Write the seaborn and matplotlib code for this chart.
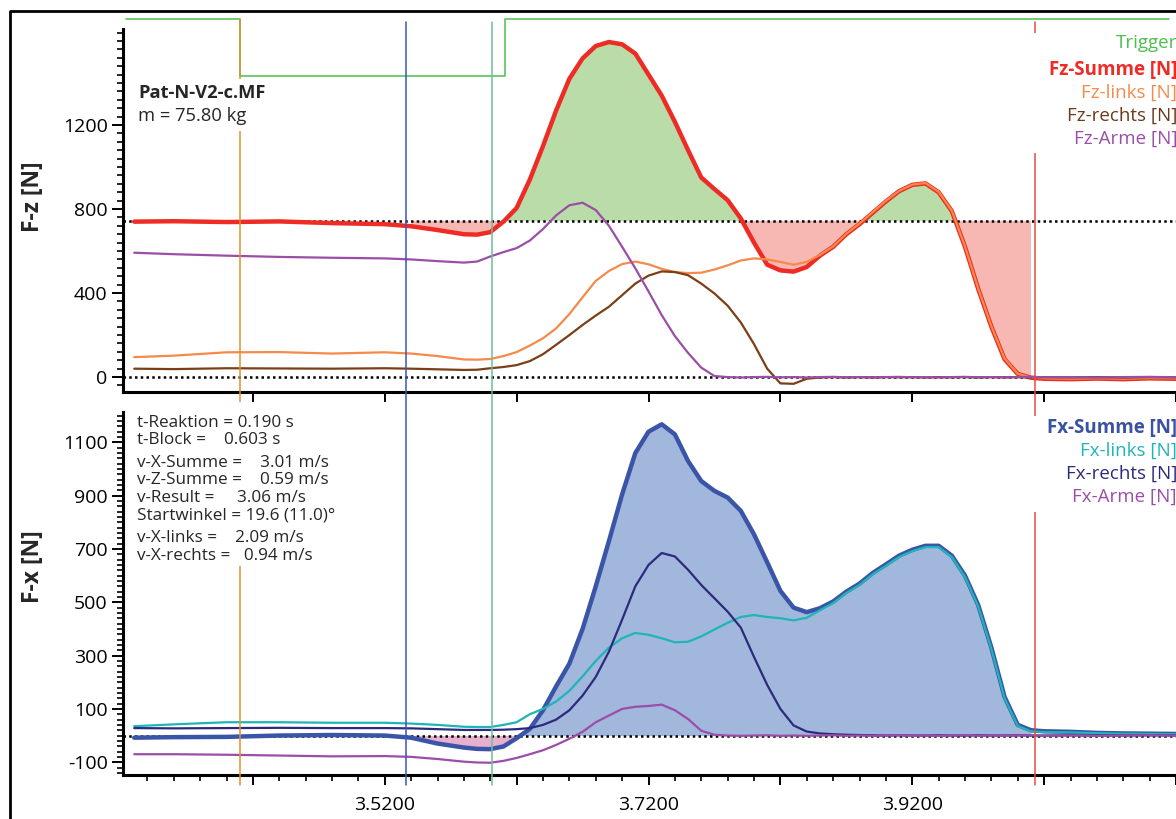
import numpy as np
import matplotlib
matplotlib.use("Agg")
import matplotlib.pyplot as plt
import seaborn as sns
from matplotlib.lines import Line2D
from matplotlib.patches import Rectangle
from matplotlib.ticker import MultipleLocator, FixedLocator

# time axis [s]
t = [3.33, 3.36, 3.40, 3.44, 3.48, 3.52, 3.54, 3.56, 3.58,
     3.59, 3.60, 3.61, 3.62, 3.63, 3.64, 3.65, 3.66, 3.67, 3.68,
     3.69, 3.70, 3.71, 3.72, 3.73, 3.74, 3.75, 3.76, 3.77, 3.78,
     3.79, 3.80, 3.81, 3.82, 3.83, 3.84, 3.85, 3.86, 3.87, 3.88,
     3.89, 3.90, 3.91, 3.92, 3.93, 3.94, 3.95, 3.96, 3.97, 3.98,
     3.99, 4.00, 4.01, 4.02, 4.04, 4.06, 4.08, 4.10, 4.12]

# vertical forces [N]
fz_summe = [740, 742, 738, 741, 733, 728, 718, 700, 680,
            678, 690, 740, 805, 940, 1100, 1270, 1420, 1517, 1576,
            1595, 1584, 1540, 1440, 1340, 1215, 1080, 950, 895, 842,
            755, 640, 535, 508, 502, 524, 578, 620, 680, 728,
            782, 836, 885, 915, 922, 880, 790, 620, 420, 240,
            85, 15, -3, -8, -10, -7, -10, -6, -8]
fz_links = [95, 102, 118, 119, 112, 118, 112, 100, 84,
            83, 86, 100, 119, 150, 185, 232, 300, 380, 458,
            505, 538, 550, 537, 515, 500, 495, 497, 512, 532,
            555, 565, 560, 548, 535, 548, 582, 622, 682, 731,
            785, 839, 886, 916, 924, 882, 792, 622, 422, 242,
            88, 16, -2, -6, -8, -6, -8, -5, -6]
fz_rechts = [40, 38, 42, 41, 40, 42, 40, 37, 34,
             35, 42, 48, 57, 76, 109, 154, 200, 248, 293,
             335, 390, 445, 483, 503, 500, 485, 445, 398, 340,
             260, 157, 40, -30, -32, -8, -2, 0, -2, 0,
             -2, 0, -1, 0, -2, 0, -1, 0, -2, 0,
             -1, 0, -2, 0, -1, 0, -2, 0, -1]
fz_arme = [592, 585, 578, 572, 568, 565, 560, 552, 545,
           550, 574, 595, 614, 650, 705, 770, 818, 830, 795,
           720, 620, 518, 408, 295, 195, 115, 45, 5, 0,
           -2, 0, 1, -1, 0, -2, 0, 1, -1, 0,
           -2, 0, 1, -1, 0, -2, 0, 1, -1, 0,
           -2, 0, 1, -1, 0, -2, 0, 1, -1]

# horizontal forces [N]
fx_summe = [-8, -6, -5, 0, 2, 0, -8, -30, -45,
            -50, -51, -41, -10, 25, 95, 185, 270, 400, 560,
            730, 905, 1060, 1140, 1168, 1130, 1030, 955, 918, 893,
            843, 755, 650, 543, 480, 463, 478, 503, 540, 570,
            610, 642, 675, 697, 712, 712, 675, 600, 490, 330,
            145, 40, 20, 16, 14, 10, 8, 7, 6]
fx_links = [35, 42, 50, 50, 48, 48, 45, 40, 33,
            32, 32, 40, 50, 80, 100, 128, 168, 222, 280,
            330, 365, 385, 378, 365, 350, 352, 372, 398, 423,
            445, 452, 445, 440, 432, 442, 470, 497, 535, 565,
            605, 637, 670, 692, 707, 707, 670, 595, 485, 325,
            140, 36, 16, 13, 12, 9, 7, 6, 5]
fx_rechts = [28, 27, 28, 29, 28, 28, 27, 24, 21,
             21, 21, 22, 24, 28, 40, 60, 95, 150, 220,
             315, 435, 560, 640, 685, 672, 622, 565, 515, 465,
             405, 295, 190, 100, 38, 15, 8, 5, 3, 2,
             1, 0, 1, 0, 0, 1, 0, 0, 1, 0,
             0, 1, 0, 0, 1, 0, 0, 1, 0]
fx_arme = [-70, -70, -72, -75, -78, -77, -80, -88, -98,
           -101, -102, -95, -84, -70, -55, -35, -12, 14, 50,
           75, 100, 108, 111, 116, 95, 62, 18, 3, 0,
           -1, 0, 1, -1, 0, -1, 0, 1, -1, 0,
           -1, 0, 1, -1, 0, -1, 0, 1, -1, 0,
           -1, 0, 1, -1, 0, -1, 0, 1, -1]

body_weight = 743.6
trigger_t = [3.324, 3.410, 3.611, 4.115]
trigger_lvl = [1705, 1433, 1705, 1705]
event_t = [3.410, 3.536, 3.601, 4.013]
event_colors = ['#e0912f', '#3a55c0', '#6cbf9a', '#e84a4a']

xtick_pos = [3.42, 3.52, 3.62, 3.72, 3.82, 3.92, 4.02, 4.12]
xtick_labels = ['', '3.5200', '', '3.7200', '', '3.9200', '', '']

top_legend = [('Trigger', '#4cbf4c', 'normal'),
              ('Fz-Summe [N]', '#ee2b24', 'bold'),
              ('Fz-links [N]', '#f58a4b', 'normal'),
              ('Fz-rechts [N]', '#6b3a1c', 'normal'),
              ('Fz-Arme [N]', '#9b4ea6', 'normal')]
bottom_legend = [('Fx-Summe [N]', '#3a52a0', 'bold'),
                 ('Fx-links [N]', '#1fb5b8', 'normal'),
                 ('Fx-rechts [N]', '#2d2a7e', 'normal'),
                 ('Fx-Arme [N]', '#9b4ea6', 'normal')]
info_lines = ['t-Reaktion = 0.190 s',
              't-Block =    0.603 s',
              'v-X-Summe =    3.01 m/s',
              'v-Z-Summe =    0.59 m/s',
              'v-Result =     3.06 m/s',
              'Startwinkel = 19.6 (11.0)°',
              'v-X-links =    2.09 m/s',
              'v-X-rechts =   0.94 m/s']

sns.set_style("white")
plt.rcParams['font.family'] = ['Open Sans', 'DejaVu Sans']
plt.rcParams['axes.unicode_minus'] = False

W, H = 1176, 819
fig = plt.figure(figsize=(W / 100, H / 100), dpi=100)


def fx(px):
    return px / W


def fy(py):
    return 1 - py / H


ax1 = fig.add_axes([fx(123), fy(392), fx(W - 123), (392 - 29) / H])
ax2 = fig.add_axes([fx(123), fy(775), fx(W - 123), (775 - 412) / H])

tt = np.array(t)
line_kw = dict(solid_joinstyle='round', solid_capstyle='round')

# top panel: vertical forces
fz = np.array(fz_summe)
m = (tt >= 3.54) & (tt <= 4.01)
ax1.fill_between(tt[m], fz[m], body_weight, where=fz[m] >= body_weight,
                 interpolate=True, color='#b9dca9', lw=0, zorder=1)
ax1.fill_between(tt[m], fz[m], body_weight, where=fz[m] <= body_weight,
                 interpolate=True, color='#f7b7b3', lw=0, zorder=1)
ax1.axhline(body_weight, color='black', lw=1.8, ls=(0, (1, 1.3)), zorder=2)
ax1.axhline(0, color='black', lw=1.8, ls=(0, (1, 1.3)), zorder=2)
sns.lineplot(x=t, y=fz_summe, ax=ax1, color='#ee2b24', lw=3.2, zorder=3, **line_kw)
sns.lineplot(x=t, y=fz_links, ax=ax1, color='#f58a4b', lw=1.6, zorder=4, **line_kw)
sns.lineplot(x=t, y=fz_rechts, ax=ax1, color='#7b3f17', lw=1.6, zorder=4, **line_kw)
sns.lineplot(x=t, y=fz_arme, ax=ax1, color='#9b4ea6', lw=1.6, zorder=4, **line_kw)
ax1.plot(trigger_t, trigger_lvl, drawstyle='steps-post', color='#4cbf4c',
         lw=1.1, clip_on=False, zorder=5)

# bottom panel: horizontal forces
fxs = np.array(fx_summe)
ax2.fill_between(tt[m], fxs[m], 0, where=fxs[m] >= 0, interpolate=True,
                 color='#a1b7dc', lw=0, zorder=1)
ax2.fill_between(tt[m], fxs[m], 0, where=fxs[m] <= 0, interpolate=True,
                 color='#e8b0cf', lw=0, zorder=1)
ax2.axhline(0, color='black', lw=1.8, ls=(0, (1, 1.3)), zorder=2)
sns.lineplot(x=t, y=fx_summe, ax=ax2, color='#3a55a8', lw=3.2, zorder=3, **line_kw)
sns.lineplot(x=t, y=fx_links, ax=ax2, color='#1fb5b8', lw=1.6, zorder=4, **line_kw)
sns.lineplot(x=t, y=fx_rechts, ax=ax2, color='#2d2a7e', lw=1.6, zorder=4, **line_kw)
sns.lineplot(x=t, y=fx_arme, ax=ax2, color='#9b4ea6', lw=1.6, zorder=4, **line_kw)

ax1.set_ylim(-71, 1657)
ax2.set_ylim(-148, 1214)
ax1.yaxis.set_major_locator(FixedLocator([0, 400, 800, 1200]))
ax1.yaxis.set_minor_locator(MultipleLocator(40))
ax2.yaxis.set_major_locator(FixedLocator([-100, 100, 300, 500, 700, 900, 1100]))
ax2.yaxis.set_minor_locator(MultipleLocator(20))

for ax in (ax1, ax2):
    ax.set_xlim(3.3215, 4.119)
    ax.set_xticks(xtick_pos)
    ax.set_facecolor('none')
    for side in ('top', 'right'):
        ax.spines[side].set_visible(False)
    for side in ('left', 'bottom'):
        ax.spines[side].set_color('black')
        ax.spines[side].set_linewidth(2.2)
    ax.tick_params(axis='y', which='major', direction='out', length=8,
                   width=1.4, colors='black', labelsize=14, pad=3, left=True)
    ax.tick_params(axis='y', which='minor', direction='out', length=4,
                   width=1.2, colors='black', left=True)
    ax.tick_params(axis='x', which='major', direction='out', length=7,
                   width=1.4, colors='black', bottom=True)
    ax.set_ylabel('')
    ax.set_xlabel('')

ax1.set_xticklabels([])
ax2.set_xticklabels(xtick_labels)
ax2.xaxis.set_minor_locator(MultipleLocator(0.02))
ax2.tick_params(axis='x', which='major', labelsize=14, pad=8)
ax2.tick_params(axis='x', which='minor', direction='out', length=4,
                width=1.2, colors='black', bottom=True)

# event markers across both panels
for et, col in zip(event_t, event_colors):
    xf = fig.transFigure.inverted().transform(ax1.transData.transform((et, 0)))[0]
    top = 19 if col == '#e0912f' else 22
    fig.add_artist(Line2D([xf, xf], [fy(top), fy(785)], transform=fig.transFigure,
                          color=col, lw=1.1, zorder=2))

# white boxes behind the text blocks
for x0, y0, x1, y1 in [(135, 79, 272, 131), (135, 402, 370, 566),
                       (1030, 33, W, 153), (1030, 416, W, 512)]:
    fig.add_artist(Rectangle((fx(x0), fy(y1)), fx(x1 - x0), (y1 - y0) / H,
                             transform=fig.transFigure, facecolor='white',
                             edgecolor='none', zorder=3))

# outer frame
fig.add_artist(Line2D([fx(10), fx(10), fx(W + 5)], [fy(H + 5), fy(11), fy(11)],
                      transform=fig.transFigure, color='black', lw=2, zorder=6))

fig.text(fx(33), fy(197), 'F-z [N]', rotation=90, fontsize=16.5, fontweight='bold',
         ha='center', va='center', zorder=5)
fig.text(fx(33), fy(567), 'F-x [N]', rotation=90, fontsize=16.5, fontweight='bold',
         ha='center', va='center', zorder=5)

fig.text(fx(138), fy(93), 'Pat-N-V2-c.MF', fontsize=13.2, fontweight='bold',
         ha='left', va='center', zorder=5)
fig.text(fx(138), fy(116), 'm = 75.80 kg', fontsize=13.2,
         ha='left', va='center', zorder=5)

info_y = [423, 440, 463, 480, 498, 516, 538, 556]
for line, yy in zip(info_lines, info_y):
    fig.text(fx(137), fy(yy), line, fontsize=12.3, ha='left', va='center', zorder=5)

for i, (lab, col, wt) in enumerate(top_legend):
    yy = 43 if i == 0 else 70 + (i - 1) * 23
    fig.text(fx(1177), fy(yy), lab, color=col, fontsize=13.5, fontweight=wt,
             ha='right', va='center', zorder=5)
for i, (lab, col, wt) in enumerate(bottom_legend):
    fig.text(fx(1177), fy(428 + i * 23), lab, color=col, fontsize=13.5,
             fontweight=wt, ha='right', va='center', zorder=5)

fig.savefig('out.png', dpi=100)
